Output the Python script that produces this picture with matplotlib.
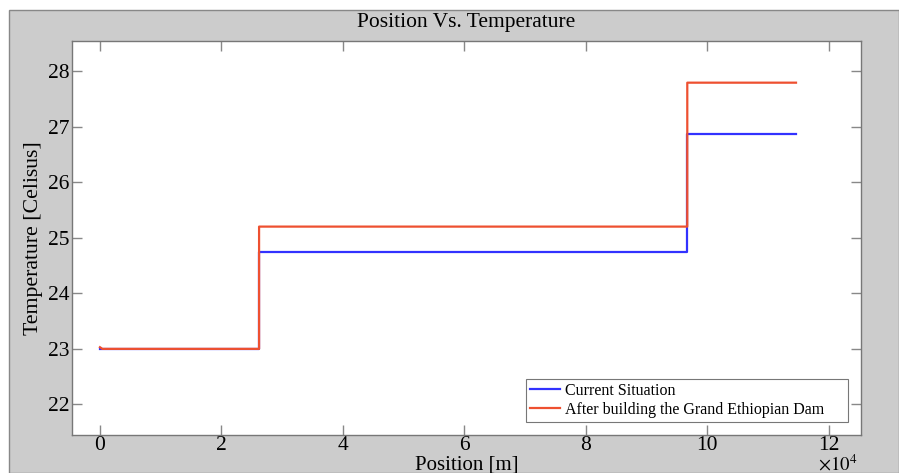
import matplotlib
matplotlib.use("Agg")
import matplotlib.pyplot as plt
from matplotlib.patches import Rectangle
from matplotlib.ticker import FuncFormatter

# Data (position in metres, temperature in Celsius)
position_current = [0, 26200, 26200, 96700, 96700, 114600]
temp_current = [23.0, 23.0, 24.75, 24.75, 26.87, 26.87]

position_dam = [0, 400, 26200, 26200, 96700, 96700, 114600]
temp_dam = [23.03, 23.0, 23.0, 25.2, 25.2, 27.79, 27.79]

label_current = "Current Situation"
label_dam = "After building the Grand Ethiopian Dam"
xticks = [0, 20000, 40000, 60000, 80000, 100000, 120000]
yticks = [22, 23, 24, 25, 26, 27, 28]
x_scale = 1e4

plt.rcParams['font.family'] = ['Liberation Serif', 'DejaVu Serif']
plt.rcParams['mathtext.fontset'] = 'stix'

fig = plt.figure(figsize=(8.99, 4.73), dpi=100)
fig.patch.set_facecolor('white')
fig.patches.append(Rectangle((9/899, 0), 1 - 9/899, 1 - 10/473, transform=fig.transFigure,
                             facecolor='#cccccc', edgecolor='#888888', linewidth=1, zorder=-10))

ax = fig.add_axes([72/899, 1 - 435/473, (861-72)/899, (435-41)/473])
ax.set_facecolor('white')

ax.plot(position_current, temp_current, color='#3232ff', lw=1.6, label=label_current)
ax.plot(position_dam, temp_dam, color='#ee5030', lw=1.6, label=label_dam)

ax.set_xlim(-4600, 125300)
ax.set_ylim(21.45, 28.54)
ax.set_xticks(xticks)
ax.set_yticks(yticks)
ax.xaxis.set_major_formatter(FuncFormatter(lambda v, p: f"{v / x_scale:g}"))

ax.tick_params(direction='in', length=7, width=1, color='#888888', labelsize=15.5,
               top=True, right=True, pad=2)
ax.tick_params(axis='x', pad=1)
for s in ax.spines.values():
    s.set_color('#777777')
    s.set_linewidth(1)

ax.set_title("Position Vs. Temperature", fontsize=15.5, pad=10)
ax.set_xlabel("Position [m]", fontsize=15, labelpad=0)
ax.set_ylabel("Temperature [Celisus]", fontsize=15.7, labelpad=3)
fig.text(838/899, 1 - 464/473, r"$\times10^{4}$", fontsize=13.5, ha='center', va='center')

leg = ax.legend(loc='lower left', bbox_to_anchor=(0.5754, 0.033, 0.408, 0.11), mode='expand',
                fontsize=11.5, frameon=True, fancybox=False,
                edgecolor='#555555', borderpad=0.25, handlelength=1.9, handletextpad=0.3,
                labelspacing=0.2, borderaxespad=0.0)
leg.get_frame().set_linewidth(0.8)

fig.savefig("out.png", dpi=100, facecolor=fig.get_facecolor())
